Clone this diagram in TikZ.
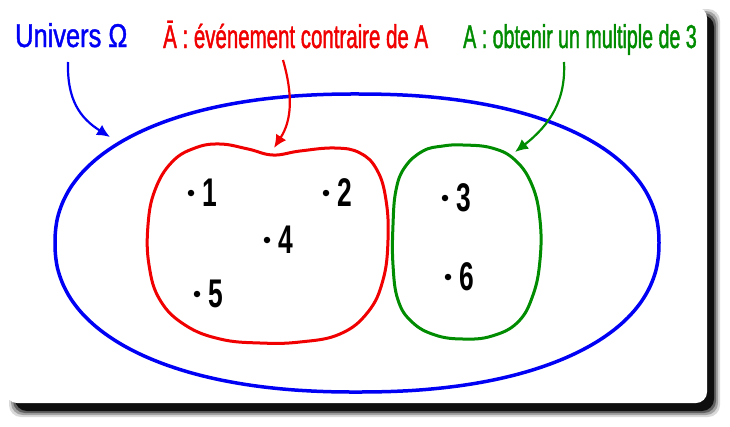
\documentclass[tikz,border=0pt]{standalone}
\usepackage{fontspec}
\setmainfont{Liberation Sans}
\newfontfamily\labfont[FakeStretch=0.62,FakeBold=1.2]{Liberation Sans}
\newfontfamily\greenfont[FakeStretch=0.595,FakeBold=1.2]{Liberation Sans}
\newfontfamily\unifont[FakeStretch=0.77,FakeBold=1.2]{Liberation Sans}
\newfontfamily\numfont[FakeStretch=0.66]{Liberation Sans}
\usetikzlibrary{positioning,arrows.meta}

\definecolor{univblue}{RGB}{0,0,245}
\definecolor{abarred}{RGB}{240,0,0}
\definecolor{agreen}{RGB}{0,140,0}

\tikzset{
  lab/.style={anchor=base west, inner sep=0pt, font=\labfont\fontsize{33}{36}\selectfont},
  elem/.style={circle, fill=black, inner sep=0pt, minimum size=6.5pt},
  num/.style={inner sep=0pt, font=\numfont\bfseries\fontsize{40}{42}\selectfont},
  arr/.style={line width=2.2pt, -{Latex[length=13pt,width=12pt]}},
  blob/.style={line width=3pt}
}

\begin{document}
\begin{tikzpicture}[x=1pt,y=-1pt]
  \useasboundingbox (0,0) rectangle (730,426);
  \fill[white] (0,0) rectangle (730,426);
  % card with its shadow
  \foreach \b/\o in {6/0.15,4/0.25,2/0.4,0/0.85}
    \fill[black,opacity=\o,rounded corners=12pt] (15-\b,15-\b) rectangle (714+\b,411+\b);
  \fill[white,rounded corners=11pt] (6,7) rectangle (707,403);

  % Univers
  \draw[univblue,line width=3.5pt] plot[domain=0:360,samples=120,smooth cycle]
    ({357+302*sign(cos(\x))*abs(cos(\x))^0.9},{243+149*sign(sin(\x))*abs(sin(\x))^0.9});

  % A barre
  \draw[abarred,blob] plot[smooth cycle,tension=0.7] coordinates {
    (273,155) (300,151) (335,148) (360,153) (377,170) (386,200) (388,240)
    (383,280) (368,312) (340,334) (300,342) (260,343) (220,339) (185,325)
    (160,300) (149,265) (148,225) (155,190) (172,162) (195,148) (220,144)
    (248,149)};

  % A
  \draw[agreen,blob] plot[smooth cycle,tension=0.7] coordinates {
    (463,145) (492,148) (515,160) (532,185) (540,220) (540,260) (533,295)
    (518,322) (492,336) (463,339) (435,335) (412,322) (398,300) (393,265)
    (393,225) (396,190) (405,167) (423,151) (443,146)};

  % Labels
  \node[lab,univblue,font=\unifont\fontsize{33}{36}\selectfont] (univ) at (15,47) {Univers Ω};
  \node[lab,abarred] (abar) at (163,48) {Ā : événement contraire de A};
  \node[lab,agreen,font=\greenfont\fontsize{33}{36}\selectfont] (aset) at (463,48) {A : obtenir un multiple de 3};

  % Arrows
  \coordinate (univfoot) at (68,62);
  \coordinate (univtip) at (110,137);
  \coordinate (abarfoot) at (283,60);
  \coordinate (abartip) at (274,148);
  \coordinate (asetfoot) at (564,62);
  \coordinate (asettip) at (515,152);
  \draw[arr,univblue] (univfoot) .. controls (67,100) and (80,118) .. (univtip);
  \draw[arr,abarred] (abarfoot) .. controls (293,95) and (292,120) .. (abartip);
  \draw[arr,agreen] (asetfoot) .. controls (566,100) and (550,125) .. (asettip);

  % Elements
  \node[elem] (e1) at (191,193) {};
  \node[elem] (e2) at (326,193) {};
  \node[elem] (e4) at (267,240) {};
  \node[elem] (e5) at (197,294) {};
  \node[elem] (e3) at (445,198) {};
  \node[elem] (e6) at (448,277) {};
  \node[num,right=8pt of e1] (n1) {1};
  \node[num,right=8pt of e2] (n2) {2};
  \node[num,right=8pt of e4] (n4) {4};
  \node[num,right=8pt of e5] (n5) {5};
  \node[num,right=8pt of e3] (n3) {3};
  \node[num,right=8pt of e6] (n6) {6};
\end{tikzpicture}
\end{document}
